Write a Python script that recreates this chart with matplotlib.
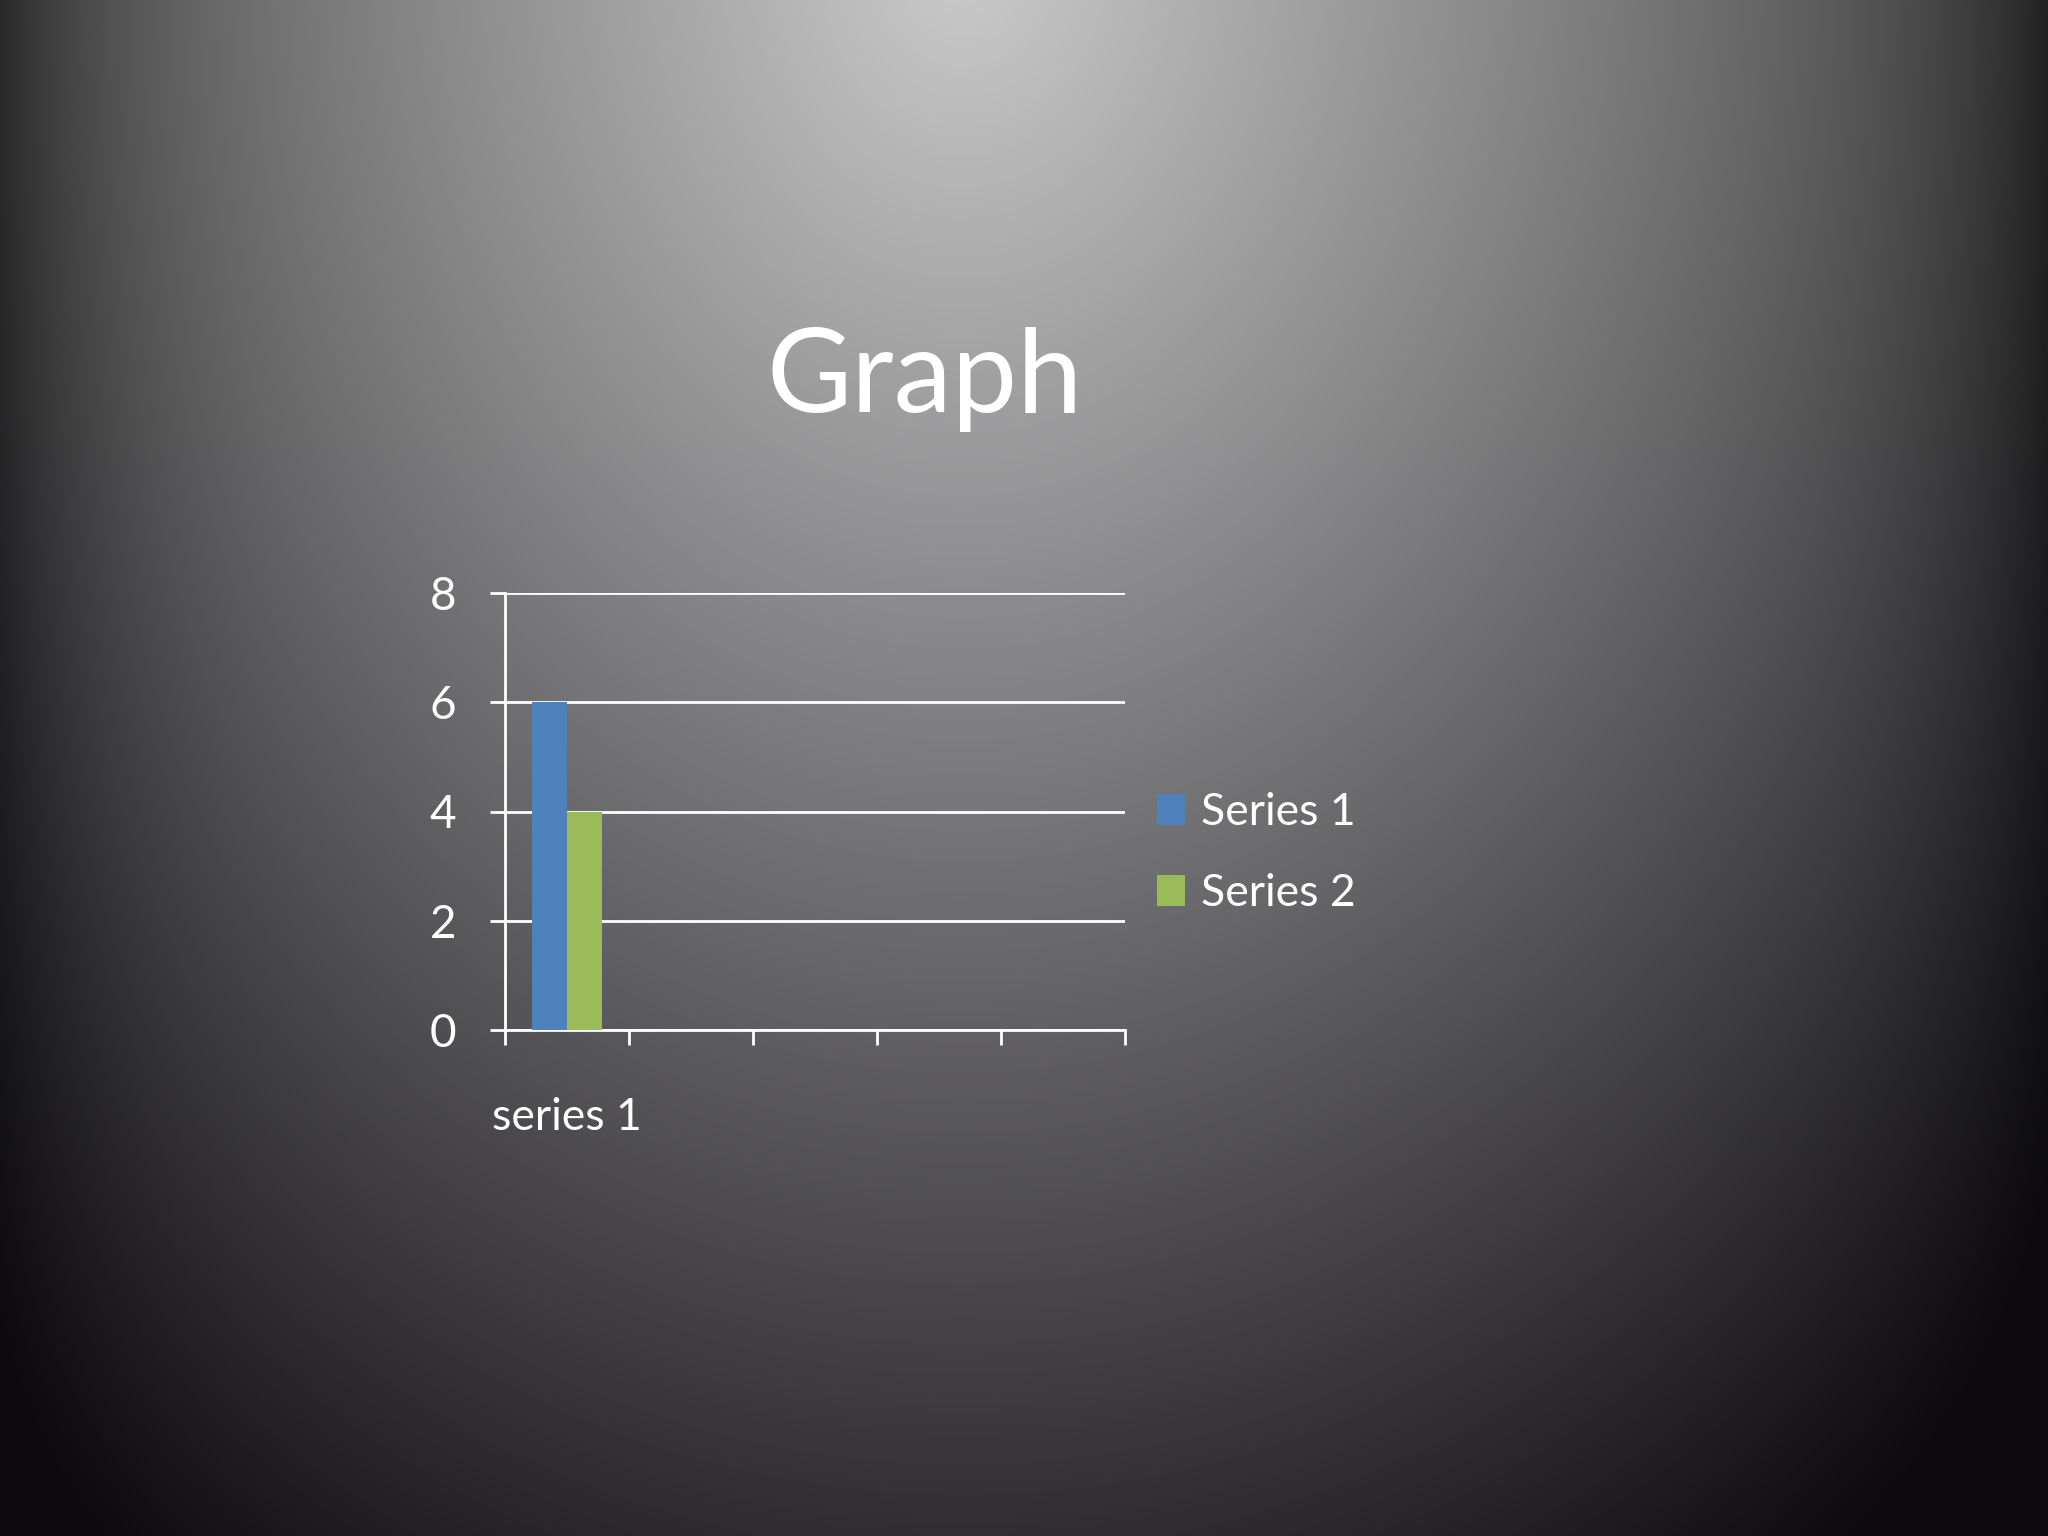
import numpy as np
import matplotlib
matplotlib.use("Agg")
import matplotlib.pyplot as plt
from matplotlib.patches import Patch

# ---- data ----
categories = ["series 1", "", "", "", ""]
series_names = ["Series 1", "Series 2"]
series1_values = [6, np.nan, np.nan, np.nan, np.nan]
series2_values = [4, np.nan, np.nan, np.nan, np.nan]
y_ticks = [0, 2, 4, 6, 8]
title_text = "Graph"

colors = ["#4f81bd", "#9bbb59"]

plt.rcParams["font.family"] = ["Lato", "DejaVu Sans"]

W, H, DPI = 2048, 1536, 200
fig = plt.figure(figsize=(W / DPI, H / DPI), dpi=DPI)

# ---- background gradient ----
bg = fig.add_axes([0, 0, 1, 1], zorder=-10)
xs = np.linspace(0, 1, 512)
ys = np.linspace(0, 1, 384)
X, Y = np.meshgrid(xs, ys)
d = np.sqrt(((X - 0.47) / 0.75) ** 2 + ((Y + 0.03) / 1.25) ** 2)
v = 203 - 188 * d
edge = np.minimum(X, 1 - X)
v = v * (1 - 0.5 * np.exp(-edge / 0.05))
v = np.clip(v, 12, 255)
tint = np.clip(Y, 0, 1)
img = np.stack([v, v - 2.0 * tint, v + 3.0 * tint], axis=-1) / 255.0
img = np.clip(img, 0, 1)
bg.imshow(img, aspect="auto", extent=[0, 1, 0, 1], origin="upper", interpolation="bilinear")
bg.set_axis_off()

# ---- chart ----
ax = fig.add_axes([505 / W, 1 - 1030 / H, 620 / W, (1030 - 593) / H])
ax.patch.set_alpha(0)

n = len(categories)
x = np.arange(n)
gap = 1.5
bw = 1.0 / (2 + gap)
ax.bar(x - bw / 2, series1_values, width=bw, color=colors[0], zorder=3)
ax.bar(x + bw / 2, series2_values, width=bw, color=colors[1], zorder=3)

ax.set_xlim(-0.5, n - 0.5)
ax.set_ylim(0, 8)
ax.set_yticks(y_ticks)
ax.set_yticklabels([str(t) for t in y_ticks])
ax.yaxis.grid(True, color="white", linewidth=1.0)
ax.set_axisbelow(True)

ax.set_xticks(np.arange(n + 1) - 0.5)
ax.set_xticklabels([])
ax.set_xticks(x, minor=True)
ax.set_xticklabels(categories, minor=True)
ax.tick_params(axis="x", which="minor", length=0, pad=24, labelsize=16, labelcolor="white")
ax.tick_params(axis="x", which="major", length=5.5, width=1.0, color="white", direction="out")
ax.tick_params(axis="y", length=5.5, width=1.0, color="white", direction="out", pad=12,
               labelsize=16.5, labelcolor="white")

for s in ["top", "right"]:
    ax.spines[s].set_visible(False)
for s in ["left", "bottom"]:
    ax.spines[s].set_color("white")
    ax.spines[s].set_linewidth(1.0)

handles = [Patch(facecolor=c, edgecolor="none") for c in colors]
leg = fig.legend(handles, series_names, loc="center left",
                 bbox_to_anchor=(1157 / W, 1 - 853 / H), frameon=False,
                 fontsize=16, handlelength=0.62, handleheight=0.72,
                 handletextpad=0.38, labelspacing=0.9, borderpad=0, borderaxespad=0)
for t in leg.get_texts():
    t.set_color("white")

fig.text(925 / W, 1 - 379 / H, title_text, ha="center", va="center",
         fontsize=42, color="white")

fig.savefig("out.png", dpi=DPI)
